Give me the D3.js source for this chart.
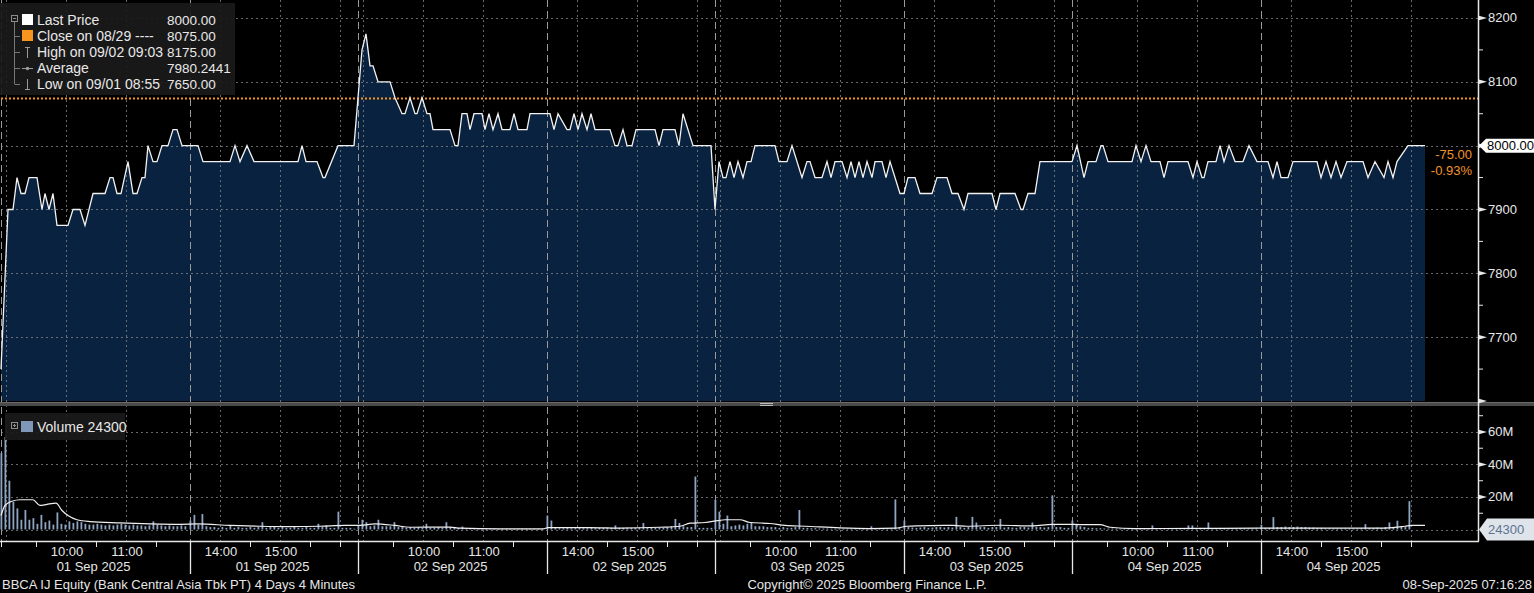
<!DOCTYPE html>
<html><head><meta charset="utf-8">
<script src="https://cdn.jsdelivr.net/npm/d3@7"></script>
<style>
html,body{margin:0;padding:0;background:#000;overflow:hidden;}
svg{display:block;font-family:"Liberation Sans",Arial,sans-serif;}
</style></head><body>
<svg id="chart" width="1534" height="593"></svg>
<script>
// ---------------- DATA ----------------
const dayLabels = ["01 Sep 2025","02 Sep 2025","03 Sep 2025","04 Sep 2025"];
const sessions = [["08:55","12:00"],["13:30","16:15"]];
const hourLabels = [["10:00","11:00"],["14:00","15:00"]];
const hourGrid = [["09:00","10:00","11:00"],["14:00","15:00","16:00"]];
const minorTimes = [["09:30","10:30","11:30"],["14:30","15:30","16:00"]];
const priceTicks = [7700,7800,7900,8000,8100,8200];
const priceMinor = [7650,7750,7850,7950,8050,8150];
const volTicks = [20,40,60];          // millions
const volMinor = [10,30,50,70];
const lastPrice = 8000, prevClose = 8075, lastVolume = 24300;
const changeText = ["-75.00","-0.93%"];
const legendLabels = ["Last Price","Close on 08/29 ----","High on 09/02 09:03","Average","Low on 09/01 08:55"];
const legendValues = ["8000.00","8075.00","8175.00","7980.2441","7650.00"];

// price (4-minute bars, turning points), per day
const priceDay1 = [["08:55",7650],["09:02",7900],["09:07",7900],["09:11",7950],["09:15",7925],["09:19",7925],["09:23",7950],["09:31",7950],["09:36",7900],["09:39",7925],["09:43",7900],["09:47",7925],["09:51",7875],["10:02",7875],["10:07",7900],["10:14",7900],["10:19",7875],["10:27",7925],["10:39",7925],["10:44",7950],["10:47",7950],["10:51",7925],["10:55",7925],["11:02",7975],["11:07",7925],["11:11",7925],["11:16",7950],["11:19",7950],["11:22",8000],["11:27",7975],["11:31",7975],["11:36",8000],["11:42",8000],["11:47",8025],["11:51",8025],["11:56",8000],["12:00",8000],["13:30",8000],["13:38",8000],["13:43",7975],["14:10",7975],["14:15",8000],["14:20",7975],["14:27",8000],["14:34",7975],["15:18",7975],["15:22",8000],["15:26",7975],["15:37",7975],["15:43",7950],["15:45",7950],["15:58",8000],["16:14",8000]];
const priceDay2 = [["08:59",8150],["09:03",8175],["09:07",8125],["09:10",8125],["09:15",8100],["09:27",8100],["09:32",8075],["09:39",8050],["09:42",8050],["09:47",8075],["09:52",8050],["09:54",8050],["09:59",8075],["10:04",8050],["10:07",8050],["10:10",8025],["10:27",8025],["10:32",8000],["10:35",8000],["10:39",8050],["10:44",8050],["10:47",8025],["10:51",8050],["10:59",8050],["11:02",8025],["11:06",8050],["11:10",8025],["11:15",8050],["11:19",8025],["11:27",8025],["11:31",8050],["11:35",8025],["11:44",8025],["11:47",8050],["12:00",8050],["13:30",8050],["13:33",8050],["13:37",8025],["13:41",8050],["13:50",8025],["13:53",8025],["13:57",8050],["14:01",8025],["14:05",8050],["14:10",8025],["14:14",8050],["14:18",8025],["14:33",8025],["14:38",8000],["14:41",8000],["14:46",8025],["14:50",8000],["14:55",8000],["14:59",8025],["15:18",8025],["15:22",8000],["15:26",8025],["15:38",8025],["15:42",8000],["15:46",8050],["15:56",8000],["16:14",8000]];
const priceDay3 = [["08:55",7900],["08:59",7975],["09:03",7950],["09:06",7950],["09:10",7975],["09:14",7950],["09:18",7975],["09:23",7950],["09:27",7975],["09:31",7975],["09:35",8000],["09:55",8000],["09:59",7975],["10:07",7975],["10:12",8000],["10:22",7950],["10:27",7975],["10:30",7975],["10:35",7950],["10:42",7950],["10:47",7975],["10:51",7950],["10:55",7975],["11:02",7975],["11:07",7950],["11:11",7975],["11:15",7950],["11:19",7975],["11:23",7950],["11:27",7975],["11:32",7950],["11:35",7975],["11:42",7975],["11:46",7950],["11:50",7975],["12:00",7925],["13:30",7925],["13:34",7950],["13:41",7950],["13:46",7925],["13:58",7925],["14:03",7950],["14:13",7950],["14:18",7925],["14:24",7925],["14:30",7900],["14:34",7925],["14:58",7925],["15:02",7900],["15:06",7925],["15:21",7925],["15:27",7900],["15:29",7900],["15:34",7925],["15:41",7925],["15:46",7975],["16:14",7975]];
const priceDay4 = [["08:55",7975],["09:00",8000],["09:07",7950],["09:11",7975],["09:19",7975],["09:24",8000],["09:26",8000],["09:31",7975],["09:55",7975],["09:59",8000],["10:04",7975],["10:09",8000],["10:14",7975],["10:23",7975],["10:27",7950],["10:31",7975],["10:51",7975],["10:56",7950],["11:00",7975],["11:05",7950],["11:07",7950],["11:11",7975],["11:19",7975],["11:23",8000],["11:27",7975],["11:32",8000],["11:38",7975],["11:46",7975],["11:52",8000],["12:00",7975],["13:30",7975],["13:37",7975],["13:42",7950],["13:46",7975],["13:50",7950],["13:57",7950],["14:02",7975],["14:26",7975],["14:30",7950],["14:35",7975],["14:40",7950],["14:45",7975],["14:50",7950],["14:56",7975],["15:12",7975],["15:17",7950],["15:24",7975],["15:33",7950],["15:37",7975],["15:42",7950],["15:46",7975],["15:57",8000],["16:14",8000]];

// volume in millions, one bar per 4 minutes from each session open
const volDay1S1 = [47,57,30,17,13,6,12,6,7,3.5,9,4.5,5.5,3,10.5,3.5,3,5,4,5,4.5,3.5,3,3,3.5,3,2.5,3,2.5,3,3.5,3,2.5,3,2.5,2.5,2,2.5,5,3,2.5,2,2.5,2,2,2.5,2];
const volDay1S2 = [5.5,9,3,9.5,2,1.5,1.5,1,1.5,1,2.5,1,1.5,1,1,1.5,1,1.5,4.5,1,1.5,2,1,1.5,1,1,1.5,1,1,1.5,1,1,3.5,1.5,2.5,1,1,11,1,1,1,0.5];
const volDay2S1 = [2.5,6,4.5,2,2.5,6,2,2,2,4.5,1.5,2,1,1.5,1,1.5,1,3.5,1,1,1.5,1,4.5,1.5,1,1,1.8,0.8,0.5,0.5,0.5,0.5,0.4,0.4,0.5,0.4,0.4,0.5,0.4,0.4,0.4,0.5,0.4,0.4,0.4,0.4,0.4];
const volDay2S2 = [8.6,5.5,1,0.8,0.8,1,0.8,0.8,1,0.8,0.8,1,0.8,1,1,1.2,1,2.5,1,1,1.2,1,1,1.2,4,1,1,1,1.2,1,1.5,2,6.5,4,2,1.5,1.5,32.6,1,1,1,1];
const volDay3S1 = [18.3,11,3.5,8.6,2,2.5,3,2.5,3.5,4.5,2,2,2,1.5,1.5,1.5,1,1.5,1,1,1.5,12,1,1,0.8,0.8,0.6,0.6,0.6,0.5,0.5,0.5,0.5,0.5,0.5,0.5,0.6,0.6,0.6,2,0.6,0.6,0.6,0.6,0.6,18.5,1];
const volDay3S2 = [5.5,1.5,1.2,1,1.2,1.5,1,1.2,1.5,1.5,1.2,1.5,1.2,7.8,1.5,1,1.5,7.8,4.3,1.5,1.5,1,1.5,1.5,6.5,1.2,1.5,1.2,1,1.5,1.5,1.2,4.3,1.5,1.5,1.2,1.5,21,1.5,1.5,1,1];
const volDay4S1 = [5.5,3,2,1.5,1,1,0.8,0.8,0.6,0.6,0.6,0.5,0.5,0.5,0.5,0.5,0.5,0.5,0.5,0.5,2.5,0.5,0.5,0.5,0.5,0.5,0.6,0.6,0.6,2.5,2.5,0.8,0.8,0.8,4.3,0.8,0.8,1,0.8,0.8,0.8,0.8,0.8,0.6,0.6,0.6,0.6];
const volDay4S2 = [3,1,1,7.6,1.5,1.5,1.8,1.5,1.5,1.8,1.5,1.5,1.2,1.2,1,1,0.6,0.6,0.6,0.6,0.6,0.6,0.6,0.6,0.6,0.8,3.3,1,1,1.2,1,1.5,4.3,1.2,5.4,1.5,1.5,17.4];

// volume moving-average line (millions)
const volAvgDay1 = [["08:55",8.6],["08:59",14.8],["09:06",17.4],["09:14",18.3],["09:27",18.3],["09:34",14.8],["09:41",15.5],["09:50",16.2],["09:56",11.7],["10:02",8.6],["10:11",6],["10:24",4.9],["10:54",4.1],["11:24",3.5],["11:54",3.2],["13:38",3.4],["14:10",2.5],["14:40",2],["15:10",1.8],["15:40",2],["16:05",2.5]];
const volAvgDay2 = [["08:57",2.5],["09:12",3.5],["09:32",2.5],["09:47",1.4],["10:27",1.5],["10:37",0.8],["11:17",0.4],["12:00",0.4],["13:31",1.2],["14:13",1.2],["14:43",0.9],["15:23",1.4],["15:43",2],["15:53",3.9],["16:08",4.3]];
const volAvgDay3 = [["08:58",5.5],["09:05",6],["09:20",6],["09:30",4.3],["09:50",3.7],["10:05",2.5],["10:25",2],["11:00",1],["11:30",0.6],["11:55",0.8],["13:33",2],["13:56",2.4],["14:19",2.5],["14:33",2],["15:06",2.6],["15:39",2.2],["15:58",3.2],["16:14",3.2]];
const volAvgDay4 = [["09:03",3],["09:23",3],["09:33",1.4],["09:58",0.6],["11:03",0.7],["12:00",0.8],["14:09",0.8],["15:29",0.8],["15:54",2],["16:01",2.5],["16:14",2.5]];

const priceByDay = [priceDay1, priceDay2, priceDay3, priceDay4];
const volByDay = [[volDay1S1, volDay1S2],[volDay2S1, volDay2S2],[volDay3S1, volDay3S2],[volDay4S1, volDay4S2]];
const volAvgByDay = [volAvgDay1, volAvgDay2, volAvgDay3, volAvgDay4];

// ---------------- LAYOUT ----------------
const W = 1534, H = 593;
const plotL = 1, plotR = 1478;
const priceTop = 2, priceBot = 401, volTop = 407.6, volBase = 529.5, axisY = 541;
const lunchGap = 4, nightGap = 3, rightPad = 49;

const toMin = s => { const [h,m] = s.split(":").map(Number); return h*60+m; };
const s1Len = toMin(sessions[0][1]) - toMin(sessions[0][0]);
const s2Len = toMin(sessions[1][1]) - toMin(sessions[1][0]);
const dayLen = s1Len + lunchGap + s2Len + nightGap;
function tIndex(day, t) {
  const m = toMin(t);
  if (m <= toMin(sessions[0][1]) + 5) return day*dayLen + (m - toMin(sessions[0][0]));
  return day*dayLen + s1Len + lunchGap + (m - toMin(sessions[1][0]));
}
const x = d3.scaleLinear().domain([0, 4*dayLen + rightPad]).range([plotL, plotR]);
const yP = d3.scaleLinear().domain([7600, 8225]).range([priceBot, priceTop]);
const yV = d3.scaleLinear().domain([0, 75]).range([volBase, volTop]);
const fmtTime = m => String(Math.floor(m/60)).padStart(2,"0")+":"+String(m%60).padStart(2,"0");

const svg = d3.select("#chart");
svg.append("rect").attr("width", W).attr("height", H).attr("fill", "#000");

// ---- price area ----
const pricePts = priceByDay.flatMap((arr, d) => arr.map(([t, v]) => ({x: x(tIndex(d, t)), v})));
svg.append("path").datum(pricePts)
  .attr("d", d3.area().x(p => p.x).y0(priceBot).y1(p => yP(p.v)))
  .attr("fill", "#08223f");

// ---- grid ----
const grid = svg.append("g");
const gridCol = "#8a8a8a";
priceTicks.forEach(v => grid.append("line").attr("x1", plotL).attr("x2", plotR)
  .attr("y1", Math.round(yP(v))+0.5).attr("y2", Math.round(yP(v))+0.5)
  .attr("stroke", gridCol).attr("stroke-opacity", 0.75).attr("stroke-dasharray", "2,3"));
[0, ...volTicks].forEach(v => grid.append("line").attr("x1", plotL).attr("x2", plotR)
  .attr("y1", Math.round(yV(v))+0.5).attr("y2", Math.round(yV(v))+0.5)
  .attr("stroke", gridCol).attr("stroke-opacity", 0.75).attr("stroke-dasharray", "2,3"));
dayLabels.forEach((lab, d) => {
  hourGrid.forEach(list => list.forEach(t => {
    const xx = Math.round(x(tIndex(d, t)))+0.5;
    grid.append("line").attr("x1", xx).attr("x2", xx).attr("y1", 0).attr("y2", axisY)
      .attr("stroke", gridCol).attr("stroke-opacity", 0.75).attr("stroke-dasharray", "2,3");
  }));
  sessions.forEach(s => {
    const xx = Math.round(x(tIndex(d, s[0])))+0.5;
    grid.append("line").attr("x1", xx).attr("x2", xx).attr("y1", 0).attr("y2", axisY)
      .attr("stroke", "#9a9a9a").attr("stroke-dasharray", "7,4");
  });
});

// ---- previous close line ----
svg.append("line").attr("x1", plotL).attr("x2", plotR)
  .attr("y1", Math.round(yP(prevClose))+0.5).attr("y2", Math.round(yP(prevClose))+0.5)
  .attr("stroke", "#f7941d").attr("stroke-width", 2).attr("stroke-dasharray", "2,2");

// ---- price line ----
svg.append("path").datum(pricePts)
  .attr("d", d3.line().x(p => p.x).y(p => yP(p.v)))
  .attr("fill", "none").attr("stroke", "#f2f2f2").attr("stroke-width", 1.3);

// ---- volume bars ----
const bars = [];
volByDay.forEach((ss, d) => ss.forEach((arr, si) => arr.forEach((v, i) => {
  bars.push({x: x(tIndex(d, fmtTime(toMin(sessions[si][0]) + 4*i))), v});
})));
svg.append("g").selectAll("rect").data(bars).join("rect")
  .attr("x", b => b.x - 0.5).attr("width", 1.8)
  .attr("y", b => yV(b.v)).attr("height", b => volBase - yV(b.v))
  .attr("fill", "#8ea4c3");

// ---- volume average line ----
const avgPts = volAvgByDay.flatMap((arr, d) => arr.map(([t, v]) => ({x: x(tIndex(d, t)), v})));
svg.append("path").datum(avgPts)
  .attr("d", d3.line().x(p => p.x).y(p => yV(p.v)).curve(d3.curveMonotoneX))
  .attr("fill", "none").attr("stroke", "#f0f0f0").attr("stroke-width", 1.2);

// ---- panel separator ----
svg.append("rect").attr("x", 0).attr("y", 402).attr("width", W).attr("height", 4).attr("fill", "#4a4a4a");
svg.append("line").attr("x1", 0).attr("x2", W).attr("y1", 402.5).attr("y2", 402.5).attr("stroke", "#6a6a6a");
[403.5, 405.5].forEach(yy => svg.append("line").attr("x1", 760).attr("x2", 773).attr("y1", yy).attr("y2", yy)
  .attr("stroke", "#bbbbbb").attr("stroke-width", 1));

// ---- right axis ----
const ax = svg.append("g");
ax.append("line").attr("x1", plotR+0.5).attr("x2", plotR+0.5).attr("y1", 0).attr("y2", axisY)
  .attr("stroke", "#e8e8e8").attr("stroke-width", 1.5);
function majorTick(yy, label) {
  ax.append("path").attr("d", `M${plotR},${yy-2.5}L${plotR+9},${yy}L${plotR},${yy+2.5}Z`).attr("fill", "#e8e8e8");
  if (label) ax.append("text").attr("x", plotR+10).attr("y", yy+4.5).attr("fill", "#e8e8e8")
    .attr("font-size", 13).text(label);
}
function minorTick(yy) {
  ax.append("line").attr("x1", plotR).attr("x2", plotR+5).attr("y1", yy).attr("y2", yy).attr("stroke", "#e8e8e8");
}
// the last-price tag covers the label of its own level
priceTicks.forEach(v => majorTick(yP(v), v === lastPrice ? null : String(v)));
priceMinor.forEach(v => minorTick(yP(v)));
majorTick(yP(7600), null);
volTicks.forEach(v => majorTick(yV(v), v + "M"));
volMinor.forEach(v => minorTick(yV(v)));

// last price tag
const yl = yP(lastPrice);
ax.append("path").attr("d", `M${plotR+1},${yl}L${plotR+8},${yl-7}L${W},${yl-7}L${W},${yl+7}L${plotR+8},${yl+7}Z`).attr("fill", "#ffffff");
ax.append("text").attr("x", plotR+9).attr("y", yl+4.5).attr("font-size", 13).attr("fill", "#000").text(lastPrice.toFixed(2));
changeText.forEach((t, i) => ax.append("text").attr("x", plotR-6).attr("y", yl+13+i*16.5)
  .attr("text-anchor", "end").attr("font-size", 13).attr("fill", "#f0932b").text(t));
// last volume tag
const yv = yV(0);
ax.append("path").attr("d", `M${plotR+1},${yv}L${plotR+9},${yv-11}L${W},${yv-11}L${W},${yv+11}L${plotR+9},${yv+11}Z`).attr("fill", "#dfe4ea");
ax.append("text").attr("x", plotR+10).attr("y", yv+4.5).attr("font-size", 13).attr("fill", "#5a7394").text(lastVolume);

// ---- bottom axis ----
const bx = svg.append("g");
bx.append("line").attr("x1", 0).attr("x2", plotR+1).attr("y1", axisY+0.5).attr("y2", axisY+0.5).attr("stroke", "#e8e8e8").attr("stroke-width", 1.5);
bx.append("line").attr("x1", 1.5).attr("x2", 1.5).attr("y1", axisY).attr("y2", axisY+6).attr("stroke", "#e8e8e8");
dayLabels.forEach((lab, d) => {
  sessions.forEach((s, si) => {
    const xs = x(tIndex(d, s[0])), xe = x(tIndex(d, s[1]));
    if (!(d === 0 && si === 0)) {
      const xx = Math.round(xs)+0.5;
      bx.append("line").attr("x1", xx).attr("x2", xx).attr("y1", axisY).attr("y2", 574).attr("stroke", "#e8e8e8").attr("stroke-width", 1.3);
    }
    minorTimes[si].forEach(t => {
      const xx = Math.round(x(tIndex(d, t)))+0.5;
      bx.append("line").attr("x1", xx).attr("x2", xx).attr("y1", axisY).attr("y2", axisY+6).attr("stroke", "#e8e8e8");
    });
    hourLabels[si].forEach(t => bx.append("text").attr("x", x(tIndex(d, t))+1).attr("y", 556)
      .attr("text-anchor", "middle").attr("font-size", 13).attr("fill", "#e6e6e6").text(t));
    bx.append("text").attr("x", (xs+xe)/2).attr("y", 571).attr("text-anchor", "middle")
      .attr("font-size", 13).attr("fill", "#e6e6e6").text(lab);
  });
});

// ---- footer ----
const ft = svg.append("g").attr("font-size", 13).attr("fill", "#e6e6e6");
ft.append("text").attr("x", 2).attr("y", 589).text("BBCA IJ Equity (Bank Central Asia Tbk PT) 4 Days 4 Minutes");
ft.append("text").attr("x", 867).attr("y", 589).attr("text-anchor", "middle").text("Copyright\u00A9 2025 Bloomberg Finance L.P.");
ft.append("text").attr("x", 1532).attr("y", 589).attr("text-anchor", "end").text("08-Sep-2025 07:16:28");

// ---- price legend ----
const lg = svg.append("g");
lg.append("rect").attr("x", 0).attr("y", 3).attr("width", 235).attr("height", 92).attr("fill", "#1a1a1a").attr("fill-opacity", 0.92);
lg.append("rect").attr("x", 11.5).attr("y", 15.5).attr("width", 6).attr("height", 6).attr("fill", "none").attr("stroke", "#8c8c8c");
lg.append("line").attr("x1", 13).attr("x2", 16).attr("y1", 18.5).attr("y2", 18.5).attr("stroke", "#8c8c8c");
lg.append("line").attr("x1", 14.5).attr("x2", 14.5).attr("y1", 22).attr("y2", 84).attr("stroke", "#777");
legendLabels.forEach((lab, i) => {
  const by = 25 + 16*i, cy = by - 5;
  if (i > 0) lg.append("line").attr("x1", 14.5).attr("x2", 20).attr("y1", cy+0.5).attr("y2", cy+0.5).attr("stroke", "#777");
  if (i === 0) lg.append("rect").attr("x", 22).attr("y", cy-6).attr("width", 11).attr("height", 11).attr("fill", "#ffffff");
  if (i === 1) lg.append("rect").attr("x", 22).attr("y", cy-6).attr("width", 11).attr("height", 11).attr("fill", "#f7941d");
  if (i === 2) { lg.append("line").attr("x1", 27.5).attr("x2", 27.5).attr("y1", cy-5).attr("y2", cy+6).attr("stroke", "#999");
                 lg.append("line").attr("x1", 25).attr("x2", 30).attr("y1", cy-4.5).attr("y2", cy-4.5).attr("stroke", "#999"); }
  if (i === 3) { lg.append("line").attr("x1", 22).attr("x2", 33).attr("y1", cy+0.5).attr("y2", cy+0.5).attr("stroke", "#999");
                 lg.append("circle").attr("cx", 27.5).attr("cy", cy+0.5).attr("r", 1.8).attr("fill", "#999"); }
  if (i === 4) { lg.append("line").attr("x1", 27.5).attr("x2", 27.5).attr("y1", cy-5).attr("y2", cy+6).attr("stroke", "#999");
                 lg.append("line").attr("x1", 25).attr("x2", 30).attr("y1", cy+5.5).attr("y2", cy+5.5).attr("stroke", "#999"); }
  lg.append("text").attr("x", 37).attr("y", by).attr("font-size", 14).attr("fill", "#e8e8e8").text(lab);
  lg.append("text").attr("x", 167).attr("y", by).attr("font-size", 13.5).attr("fill", "#e8e8e8").text(legendValues[i]);
});

// ---- volume legend ----
const vg = svg.append("g");
vg.append("rect").attr("x", 5).attr("y", 413).attr("width", 120).attr("height", 27).attr("fill", "#1a1a1a").attr("fill-opacity", 0.92);
vg.append("rect").attr("x", 11.5).attr("y", 422.5).attr("width", 6).attr("height", 6).attr("fill", "none").attr("stroke", "#8c8c8c");
vg.append("line").attr("x1", 13).attr("x2", 16).attr("y1", 425.5).attr("y2", 425.5).attr("stroke", "#8c8c8c");
vg.append("line").attr("x1", 14.5).attr("x2", 14.5).attr("y1", 424).attr("y2", 427).attr("stroke", "#8c8c8c");
vg.append("rect").attr("x", 21).attr("y", 421).attr("width", 12).attr("height", 11).attr("fill", "#7f97b8");
vg.append("text").attr("x", 37).attr("y", 432).attr("font-size", 14).attr("fill", "#e8e8e8").text("Volume " + lastVolume);
</script>
</body></html>
